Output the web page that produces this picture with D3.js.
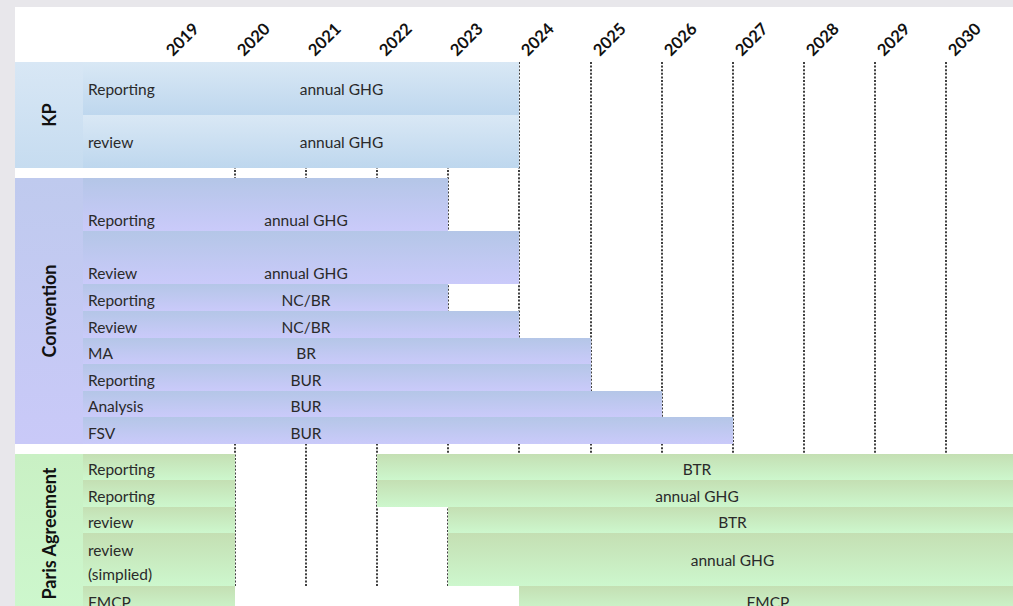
<!DOCTYPE html>
<html>
<head>
<meta charset="utf-8">
<script src="https://cdn.jsdelivr.net/npm/d3@7"></script>
<style>
  html, body { margin: 0; padding: 0; background: #e8e7eb; }
  svg { display: block; }
  text { font-family: Lato, "Open Sans", sans-serif; }
</style>
</head>
<body>
<svg id="chart" width="1013" height="606"></svg>
<script>
// ---- data ----
const years = [2019, 2020, 2021, 2022, 2023, 2024, 2025, 2026, 2027, 2028, 2029, 2030];
const gridYears = [2020, 2021, 2022, 2023, 2024, 2025, 2026, 2027, 2028, 2029, 2030];
const sections = ["KP", "Convention", "Paris Agreement"];
const sectionLabelCover = [0, 0, 1]; // year columns also covered by the label cell
const rowSection = [0, 0, 1, 1, 1, 1, 1, 1, 1, 1, 2, 2, 2, 2, 2];
const rowLabels = ["Reporting", "review", "Reporting", "Review", "Reporting", "Review", "MA", "Reporting", "Analysis", "FSV",
                   "Reporting", "Reporting", "review", "review|(simplied)", "FMCP"];
const rowTexts = ["annual GHG", "annual GHG", "annual GHG", "annual GHG", "NC/BR", "NC/BR", "BR", "BUR", "BUR", "BUR",
                  "BTR", "annual GHG", "BTR", "annual GHG", "FMCP"];
const rowUnits = [2, 2, 2, 2, 1, 1, 1, 1, 1, 1, 1, 1, 1, 2, 1];
const barStart = [2019, 2019, 2019, 2019, 2019, 2019, 2019, 2019, 2019, 2019, 2022, 2022, 2023, 2023, 2024];
const barEnd   = [2023, 2023, 2022, 2023, 2022, 2023, 2024, 2024, 2025, 2026, 2030, 2030, 2030, 2030, 2030];
const textEnd  = [2023, 2023, 2022, 2022, 2022, 2022, 2022, 2022, 2022, 2022, 2030, 2030, 2030, 2030, 2030];
const rowVAlign = ["middle", "middle", "bottom", "bottom", "bottom", "bottom", "bottom", "bottom", "bottom", "bottom",
                   "bottom", "bottom", "bottom", "middle", "bottom"];

const sectionTop = ["#d9e8f5", "#b4c6e7", "#c4dfb3"];
const sectionBottom = ["#bed7ee", "#cacafa", "#cdf7cd"];
const groupTop = ["#d8e7f5", "#bfcaee", "#c9f0c4"];
const groupBottom = ["#c6dcf0", "#c9c9f8", "#cdf7cd"];

// ---- layout ----
const svg = d3.select("#chart");
const W = 1013, H = 606;
svg.append("rect").attr("x", 15).attr("y", 7).attr("width", W - 15).attr("height", H - 7).attr("fill", "#ffffff");

const xb = d3.scaleBand().domain(years).range([164, 1017]).padding(0);
const x = d => Math.round(xb(d));
const xEnd = d => Math.round(xb(d) + xb.bandwidth());
const groupX0 = 15, labelX0 = 83;
const gapUnits = 0.38;

// cumulative row offsets in units
let acc = 0; const rowU0 = [], rowU1 = [];
rowSection.forEach((s, i) => {
  if (i > 0 && s !== rowSection[i - 1]) acc += gapUnits;
  rowU0.push(acc); acc += rowUnits[i]; rowU1.push(acc);
});
const ys = d3.scaleLinear().domain([0, acc]).range([62, 613]);
const y = u => Math.round(ys(u));

// gradients
const defs = svg.append("defs");
sections.forEach((s, k) => {
  const g = defs.append("linearGradient").attr("id", "cell" + k).attr("x1", 0).attr("y1", 0).attr("x2", 0).attr("y2", 1);
  g.append("stop").attr("offset", "0%").attr("stop-color", sectionTop[k]);
  g.append("stop").attr("offset", "100%").attr("stop-color", sectionBottom[k]);
  const h = defs.append("linearGradient").attr("id", "grp" + k).attr("x1", 0).attr("y1", 0).attr("x2", 0).attr("y2", 1);
  h.append("stop").attr("offset", "0%").attr("stop-color", groupTop[k]);
  h.append("stop").attr("offset", "100%").attr("stop-color", groupBottom[k]);
});

// dotted year grid lines (behind bars)
const lastPlainRow = rowSection.length - 2;
svg.append("g").selectAll("line").data(gridYears).join("line")
  .attr("x1", d => x(d)).attr("x2", d => x(d))
  .attr("y1", y(0)).attr("y2", y(rowU1[lastPlainRow]))
  .attr("stroke", "#111").attr("stroke-width", 1.6).attr("stroke-dasharray", "2,1.6");

// group cells
sections.forEach((s, k) => {
  const idx = rowSection.map((d, i) => d === k ? i : -1).filter(i => i >= 0);
  const y0 = y(rowU0[idx[0]]), y1 = y(rowU1[idx[idx.length - 1]]);
  svg.append("rect").attr("x", groupX0).attr("y", y0).attr("width", labelX0 - groupX0).attr("height", y1 - y0)
    .attr("fill", `url(#grp${k})`);
  const cy = (y0 + y1) / 2;
  svg.append("text").attr("transform", `translate(${(groupX0 + labelX0) / 2 + 6.5},${cy}) rotate(-90)`)
    .attr("text-anchor", "middle").attr("font-size", 18).attr("font-weight", 700).attr("fill", "#111")
    .text(s);
});

// rows
const rowsG = svg.append("g");
rowSection.forEach((k, i) => {
  const y0 = y(rowU0[i]), y1 = y(rowU1[i]);
  const cover = sectionLabelCover[k];
  const labelX1 = x(years[cover]);
  // label cell
  rowsG.append("rect").attr("x", labelX0).attr("y", y0).attr("width", labelX1 - labelX0).attr("height", y1 - y0)
    .attr("fill", `url(#cell${k})`);
  // bar cell
  const bx0 = x(barStart[i]), bx1 = xEnd(barEnd[i]);
  rowsG.append("rect").attr("x", bx0).attr("y", y0).attr("width", bx1 - bx0).attr("height", y1 - y0)
    .attr("fill", `url(#cell${k})`);
  // text baseline
  const base = rowVAlign[i] === "middle" ? (y0 + y1) / 2 + 6 : y1 - 5;
  const lines = rowLabels[i].split("|");
  lines.forEach((ln, j) => {
    const b = lines.length > 1 ? y1 - 6 - (lines.length - 1 - j) * 24 : base;
    rowsG.append("text").attr("x", labelX0 + 5).attr("y", b).attr("font-size", 15.5).attr("fill", "#2a2a2a").text(ln);
  });
  const tx = (x(barStart[i]) + xEnd(textEnd[i])) / 2;
  rowsG.append("text").attr("x", tx).attr("y", base).attr("text-anchor", "middle")
    .attr("font-size", 15.5).attr("fill", "#2a2a2a").text(rowTexts[i]);
});

// year header labels
svg.append("g").selectAll("text").data(years).join("text")
  .attr("transform", d => `translate(${x(d) + 9},${57}) rotate(-45)`)
  .attr("font-size", 16.5).attr("font-weight", 700).attr("fill", "#111")
  .text(d => d);
</script>
</body>
</html>
